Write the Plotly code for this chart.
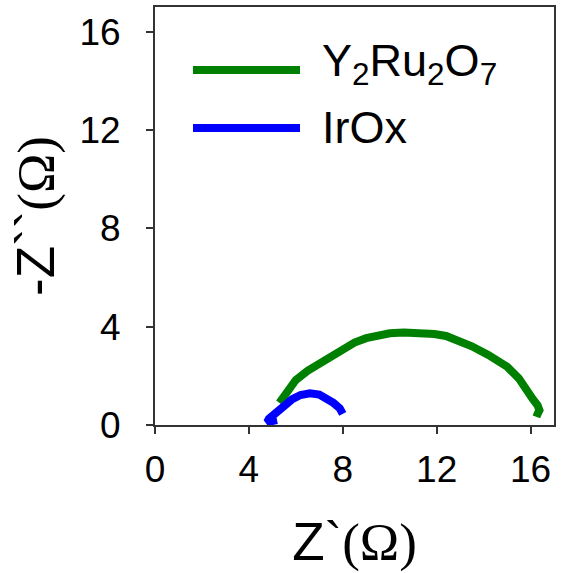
import plotly.graph_objects as go

# Data
green_name = "Y<sub>2</sub>Ru<sub>2</sub>O<sub>7</sub>"
green_x = [5.3, 5.7, 6.0, 6.5, 7.0, 7.5, 8.0, 8.5, 9.0, 9.5, 10.0, 10.6, 11.3, 11.9, 12.4, 13.0, 13.5, 14.2, 15.0, 15.5, 15.8, 16.1, 16.3, 16.38, 16.3, 16.25]
green_y = [0.9, 1.45, 1.83, 2.2, 2.5, 2.83, 3.1, 3.35, 3.53, 3.65, 3.73, 3.76, 3.74, 3.7, 3.62, 3.43, 3.2, 2.85, 2.37, 1.9, 1.42, 1.05, 0.8, 0.6, 0.45, 0.33]

blue_name = "IrOx"
blue_x = [5.2, 4.95, 4.78, 4.85, 5.05, 5.35, 5.6, 5.85, 6.2, 6.6, 7.0, 7.3, 7.6, 7.87, 8.0]
blue_y = [0.2, 0.15, 0.12, 0.25, 0.42, 0.66, 0.88, 1.05, 1.22, 1.29, 1.24, 1.1, 0.9, 0.68, 0.45]

x_ticks = [0, 4, 8, 12, 16]
y_ticks = [0, 4, 8, 12, 16]

FONT = "Liberation Sans, Arial, sans-serif"

fig = go.Figure()
fig.add_trace(go.Scatter(x=green_x, y=green_y, mode="lines", name="Y2Ru2O7",
                         line=dict(color="#008000", width=8), showlegend=False))
fig.add_trace(go.Scatter(x=blue_x, y=blue_y, mode="lines", name="IrOx",
                         line=dict(color="#0000FF", width=8), showlegend=False))

W, H = 563, 573
L, R, T, B = 155, 9, 7, 148
pw, ph = W - L - R, H - T - B

def px(x):
    return (x - L) / pw

def py(y):
    return (H - B - y) / ph

# manual legend
legend = [("#008000", green_name, 70, 64), ("#0000FF", blue_name, 128, 127)]
for color, label, yy, ty in legend:
    fig.add_shape(type="line", xref="paper", yref="paper",
                  x0=px(193), x1=px(300), y0=py(yy), y1=py(yy),
                  line=dict(color=color, width=8))
    fig.add_annotation(xref="paper", yref="paper", x=px(320), y=py(ty),
                       text=label, showarrow=False, xanchor="left", yanchor="middle",
                       font=dict(family=FONT, size=45, color="black"))

axis_common = dict(
    showline=True, linecolor="#333333", linewidth=2, mirror=True,
    ticks="outside", ticklen=7, tickwidth=2, tickcolor="#333333",
    showgrid=False, zeroline=False, automargin=False,
    tickfont=dict(family=FONT, size=37, color="black"),
)

fig.update_xaxes(range=[0, 17], tickvals=x_ticks, ticktext=[str(t) for t in x_ticks],
                 ticklabelstandoff=4,
                 title=dict(text="Z`<span style=\"font-family:'Liberation Serif'\">(Ω)</span>",
                            font=dict(family=FONT, size=53, color="black"), standoff=33),
                 **axis_common)
fig.update_yaxes(range=[0, 17], tickvals=y_ticks, ticktext=[str(t) for t in y_ticks],
                 ticklabelstandoff=18,
                 title=dict(text="-Z``<span style=\"font-family:'Liberation Serif'\">(Ω)</span>",
                            font=dict(family=FONT, size=53, color="black"), standoff=8),
                 **axis_common)

fig.update_layout(width=W, height=H, margin=dict(l=L, r=R, t=T, b=B, autoexpand=False),
                  plot_bgcolor="white", paper_bgcolor="white")

fig.write_html("out.html", config={"displayModeBar": False},
               post_script="document.body.style.margin='0';document.body.style.overflow='hidden';")
